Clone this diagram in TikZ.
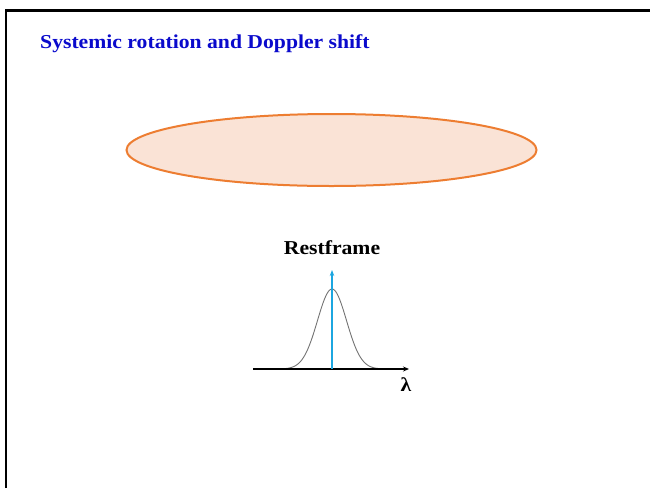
\documentclass[tikz,border=0pt]{standalone}
\usepackage{fontspec}
\setmainfont{Liberation Serif}
\usetikzlibrary{arrows.meta}
\definecolor{titleblue}{HTML}{0A0ACC}
\definecolor{ellfill}{HTML}{FAE3D6}
\definecolor{elldraw}{HTML}{ED7D31}
\definecolor{linecyan}{HTML}{1CA6E0}
\begin{document}
\begin{tikzpicture}[x=1pt,y=-1pt,
  frameline/.style={line width=2.2pt,black},
  axisline/.style={line width=1.3pt,black,-{Stealth[length=6pt,width=5pt]}},
  restline/.style={line width=1.3pt,linecyan,-{Stealth[length=6pt,width=4.5pt]}},
  profile/.style={line width=0.9pt,black!55},
  lbl/.style={font=\bfseries\fontsize{19.7}{22}\selectfont,inner sep=0pt,xscale=1.1}]
\useasboundingbox (0,0) rectangle (650,488);
\draw[frameline] (6,488) -- (6,10.5) -- (651,10.5);
\node[lbl,text=titleblue,anchor=base west] (title) at (40,48) {Systemic rotation and Doppler shift};
\draw[elldraw,fill=ellfill,line width=2pt] (331.5,150) ellipse [x radius=205, y radius=36];
\node[lbl,anchor=base] (rest) at (332,254) {Restframe};
\coordinate (ax0) at (253,369);
\coordinate (ax1) at (409,369);
\draw[profile] plot[domain=-55:55,samples=80,smooth] ({332+\x},{369-80*exp(-(\x*\x)/(2*14.5*14.5))});
\draw[axisline] (ax0) -- (ax1);
\coordinate (r0) at (332,369);
\coordinate (r1) at (332,270);
\draw[restline] (r0) -- (r1);
\node[lbl,anchor=base] (lam) at (406,391) {λ};
\end{tikzpicture}
\end{document}
